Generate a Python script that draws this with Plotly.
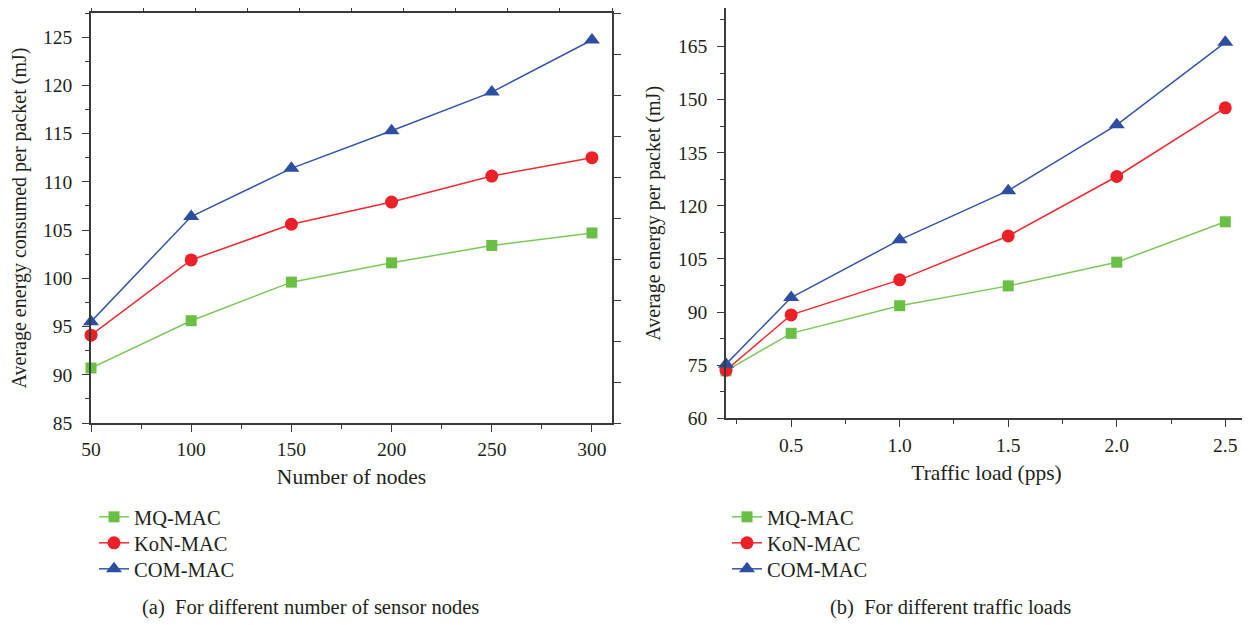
import plotly.graph_objects as go

# ---------------- data ----------------
series_names = ["MQ-MAC", "KoN-MAC", "COM-MAC"]

nodes = [50, 100, 150, 200, 250, 300]
energy_nodes_mq = [90.7, 95.6, 99.6, 101.6, 103.4, 104.7]
energy_nodes_kon = [94.1, 101.9, 105.6, 107.9, 110.6, 112.5]
energy_nodes_com = [95.5, 106.4, 111.4, 115.3, 119.3, 124.7]

traffic = [0.2, 0.5, 1.0, 1.5, 2.0, 2.5]
energy_traffic_mq = [73.4, 84.0, 91.8, 97.4, 104.1, 115.5]
energy_traffic_kon = [73.6, 89.2, 99.1, 111.5, 128.3, 147.7]
energy_traffic_com = [75.3, 94.1, 110.4, 124.3, 142.9, 166.2]

left_yticks = [85, 90, 95, 100, 105, 110, 115, 120, 125]
left_xticks = [50, 100, 150, 200, 250, 300]
right_yticks = [60, 75, 90, 105, 120, 135, 150, 165]
right_xticks = [0.5, 1.0, 1.5, 2.0, 2.5]
right_xticklabels = ["0.5", "1.0", "1.5", "2.0", "2.5"]

# ---------------- style ----------------
FONT = "Liberation Serif"
AX = "#3a3a3a"
TXT = "#231f20"
colors = ["#6abf45", "#ed2027", "#2d4fa1"]
line_colors = ["#7cc95a", "#ee2a2f", "#3556a8"]
symbols = ["square", "circle", "triangle-up"]
msizes = [11, 13, 14]

# page body has an 8px default margin: figure is placed at (8, 8)
OFF = 8
W, H = 1250 - OFF, 625 - OFF
def px(x):
    return (x - OFF) / W
def py(y):
    return 1 - (y - OFF) / H

L_dom_x = [px(91), px(612)]
L_dom_y = [py(423), py(13)]
R_dom_x = [px(726), px(1247)]
R_dom_y = [py(418.3), py(8.3)]

fig = go.Figure()

left_sets = [energy_nodes_mq, energy_nodes_kon, energy_nodes_com]
right_sets = [energy_traffic_mq, energy_traffic_kon, energy_traffic_com]

left_legends = ["legend", "legend2", "legend3"]
right_legends = ["legend4", "legend5", "legend6"]

for i, name in enumerate(series_names):
    fig.add_trace(go.Scatter(
        x=nodes, y=left_sets[i], name=name, mode="lines+markers",
        line=dict(color=line_colors[i], width=1.5),
        marker=dict(symbol=symbols[i], size=msizes[i], color=colors[i], line=dict(width=0)),
        xaxis="x", yaxis="y", legend=left_legends[i], showlegend=True, cliponaxis=False,
    ))
for i, name in enumerate(series_names):
    fig.add_trace(go.Scatter(
        x=traffic, y=right_sets[i], name=name, mode="lines+markers",
        line=dict(color=line_colors[i], width=1.5),
        marker=dict(symbol=symbols[i], size=msizes[i], color=colors[i], line=dict(width=0)),
        xaxis="x2", yaxis="y2", legend=right_legends[i], showlegend=True, cliponaxis=False,
    ))

# empty traces so the mirror (top / right) frame axes get drawn
for xa, ya in (("x3", "y3"), ("x4", "y4")):
    fig.add_trace(go.Scatter(x=[], y=[], xaxis=xa, yaxis=ya, showlegend=False,
                             hoverinfo="skip", mode="markers"))

tickfont = dict(family=FONT, size=19.5, color=TXT)
xtitlefont = dict(family=FONT, size=21.5, color=TXT)
ytitlefont = dict(family=FONT, size=20, color=TXT)

def main_x(dom, anchor, rng, tickvals, ticktext, minor_dtick, title):
    return dict(
        domain=dom, anchor=anchor, range=rng, showgrid=False, zeroline=False,
        automargin=False,
        showline=True, linecolor=AX, linewidth=1.6, ticks="outside", ticklen=7,
        tickwidth=1.4, tickcolor=AX, tickmode="array", tickvals=tickvals,
        ticktext=ticktext, tickfont=tickfont, ticklabelstandoff=1,
        minor=dict(ticks="outside", ticklen=4, tickwidth=1.2, tickcolor=AX,
                   tick0=tickvals[0], dtick=minor_dtick, showgrid=False),
        title=dict(text=title, font=xtitlefont, standoff=10),
    )

def main_y(dom, anchor, rng, tickvals, minor_dtick, title, standoff):
    return dict(
        domain=dom, anchor=anchor, range=rng, showgrid=False, zeroline=False,
        automargin=False,
        showline=True, linecolor=AX, linewidth=1.6, ticks="outside", ticklen=7,
        tickwidth=1.4, tickcolor=AX, tickmode="array", tickvals=tickvals,
        tickfont=tickfont, ticklabelstandoff=6,
        minor=dict(ticks="outside", ticklen=4, tickwidth=1.2, tickcolor=AX,
                   tick0=tickvals[0], dtick=minor_dtick, showgrid=False),
        title=dict(text=title, font=ytitlefont, standoff=standoff),
    )

def top_x(over, anchor):
    return dict(
        overlaying=over, anchor=anchor, side="top", range=[0, 1], automargin=False,
        showgrid=False, zeroline=False, showline=True, linecolor=AX, linewidth=1.6,
        ticks="outside", ticklen=7, tickwidth=1.4, tickcolor=AX, dtick=0.2, tick0=0,
        showticklabels=False,
        minor=dict(ticks="outside", ticklen=4, tickwidth=1.2, tickcolor=AX, dtick=0.1, showgrid=False),
    )

def right_y(over, anchor):
    return dict(
        overlaying=over, anchor=anchor, side="right", range=[0, 1], automargin=False,
        showgrid=False, zeroline=False, showline=True, linecolor=AX, linewidth=1.6,
        ticks="outside", ticklen=7, tickwidth=1.4, tickcolor=AX, dtick=0.1, tick0=0,
        showticklabels=False,
    )

legend_font = dict(family=FONT, size=20.5, color=TXT)
row_y = [517, 543, 569]
legends = {}
for i in range(3):
    legends[left_legends[i]] = dict(
        x=px(94), y=py(row_y[i]), xanchor="left", yanchor="middle", visible=True,
        font=legend_font, bgcolor="rgba(0,0,0,0)", itemwidth=30)
    legends[right_legends[i]] = dict(
        x=px(727), y=py(row_y[i]), xanchor="left", yanchor="middle", visible=True,
        font=legend_font, bgcolor="rgba(0,0,0,0)", itemwidth=30)

fig.update_layout(
    width=W, height=H,
    showlegend=True,
    margin=dict(l=0, r=0, t=0, b=0, autoexpand=False),
    paper_bgcolor="white", plot_bgcolor="white",
    font=dict(family=FONT, color=TXT),
    xaxis=main_x(L_dom_x, "y", [50, 310], left_xticks, [str(v) for v in left_xticks], 25, "Number of nodes"),
    yaxis=main_y(L_dom_y, "x", [85, 127.5], left_yticks, 2.5, "Average energy consumed per packet (mJ)", 12),
    xaxis2=main_x(R_dom_x, "y2", [0.2, 2.6], right_xticks, right_xticklabels, 0.25, "Traffic load (pps)"),
    yaxis2=main_y(R_dom_y, "x2", [60, 175.8], right_yticks, 7.5, "Average energy per packet (mJ)", 12),
    xaxis3=top_x("x", "y3"),
    yaxis3=right_y("y", "x3"),
    xaxis4=top_x("x2", "y4"),
    yaxis4=right_y("y2", "x4"),
    annotations=[
        dict(text="(a)  For different number of sensor nodes", x=px(310), y=py(607),
             xref="paper", yref="paper", showarrow=False, xanchor="center", yanchor="middle",
             font=dict(family=FONT, size=20.5, color=TXT)),
        dict(text="(b)  For different traffic loads", x=px(950), y=py(607),
             xref="paper", yref="paper", showarrow=False, xanchor="center", yanchor="middle",
             font=dict(family=FONT, size=20.5, color=TXT)),
    ],
    **legends,
)

fig.write_html("out.html")
